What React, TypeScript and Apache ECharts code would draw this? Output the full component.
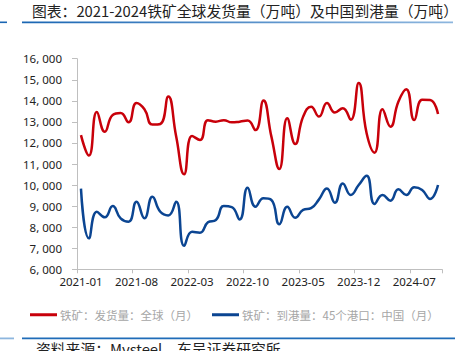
import React, { useEffect, useRef } from "react";
import * as echarts from "echarts";

const months: string[] = [
  "2021-01","2021-02","2021-03","2021-04","2021-05","2021-06","2021-07","2021-08","2021-09","2021-10","2021-11","2021-12",
  "2022-01","2022-02","2022-03","2022-04","2022-05","2022-06","2022-07","2022-08","2022-09","2022-10","2022-11","2022-12",
  "2023-01","2023-02","2023-03","2023-04","2023-05","2023-06","2023-07","2023-08","2023-09","2023-10","2023-11","2023-12",
  "2024-01","2024-02","2024-03","2024-04","2024-05","2024-06","2024-07","2024-08","2024-09","2024-10",
];

const globalShipments: number[] = [
  12370, 11400, 13470, 12530, 13330, 13420, 12980, 13900, 13600, 12870, 12900, 14200,
  12300, 10510, 12330, 12140, 13080, 13010, 13080, 12980, 13010, 13060, 12610, 14010,
  12300, 10760, 13170, 11950, 13250, 13720, 13250, 13900, 13450, 13650, 13100, 14850,
  12460, 11540, 13600, 12770, 13960, 14550, 13090, 14050, 14040, 13370,
];

const chinaArrivals: number[] = [
  9830, 7470, 8730, 8470, 9000, 8420, 8260, 9210, 8420, 9450, 8730, 8560,
  9210, 7120, 7780, 7740, 8230, 8340, 9000, 8950, 8370, 9870, 8970, 9370,
  9290, 8140, 8970, 8450, 8820, 8900, 9320, 9840, 9160, 10080, 9530, 10000,
  10440, 9100, 9530, 9260, 9800, 9530, 9900, 9770, 9340, 10000,
];

const seriesNames: string[] = ["铁矿：发货量：全球（月）", "铁矿：到港量：45个港口：中国（月）"];

const yMin = 6000;
const yMax = 16000;
const yStep = 1000;

export default function App() {
  const ref = useRef<HTMLDivElement>(null);
  useEffect(() => {
    if (!ref.current) return;
    const chart = echarts.init(ref.current, null, { renderer: "svg" });
    chart.setOption({
      animation: false,
      backgroundColor: "#ffffff",
      textStyle: { fontFamily: "'Noto Sans CJK SC', 'Noto Sans', sans-serif" },
      grid: { left: 77, right: 30, top: 58.7, bottom: 81.7, containLabel: false },
      legend: {
        left: 25,
        top: 304,
        itemWidth: 27,
        itemHeight: 3,
        itemGap: 14,
        icon: "rect",
        textStyle: {
          color: "#a6a6a6",
          fontSize: 11.5,
          fontFamily: "'Noto Sans CJK SC', sans-serif",
          padding: [0, 0, 0, -2],
        },
        data: seriesNames,
      },
      xAxis: {
        type: "category",
        data: months,
        boundaryGap: true,
        axisLine: { lineStyle: { color: "#bfbfbf", width: 1 } },
        axisTick: { show: true, interval: 6, length: 4, lineStyle: { color: "#bfbfbf" } },
        axisLabel: {
          interval: 6,
          color: "#222222",
          fontSize: 11.5,
          margin: 6,
          fontFamily: "'Noto Sans', 'DejaVu Sans', sans-serif",
        },
        splitLine: { show: false },
      },
      yAxis: {
        type: "value",
        min: yMin,
        max: yMax,
        interval: yStep,
        axisLine: { show: true, lineStyle: { color: "#bfbfbf", width: 1 } },
        axisTick: { show: true, length: 5, lineStyle: { color: "#bfbfbf" } },
        axisLabel: {
          color: "#222222",
          fontSize: 11.5,
          margin: 15,
          fontFamily: "'Noto Sans', 'DejaVu Sans', sans-serif",
          formatter: (v: number) => `${Math.floor(v / 1000)}, ${String(v % 1000).padStart(3, "0")}`,
        },
        splitLine: { show: false },
      },
      series: [
        {
          name: seriesNames[0],
          type: "line",
          data: globalShipments,
          smooth: 0.5,
          symbol: "none",
          lineStyle: { color: "#C8000A", width: 2.5 },
          itemStyle: { color: "#C8000A" },
        },
        {
          name: seriesNames[1],
          type: "line",
          data: chinaArrivals,
          smooth: 0.5,
          symbol: "none",
          lineStyle: { color: "#0B4592", width: 2.5 },
          itemStyle: { color: "#0B4592" },
        },
      ],
      graphic: [
        {
          type: "text",
          left: 32,
          top: 3,
          style: {
            text: "图表：2021-2024铁矿全球发货量（万吨）及中国到港量（万吨）",
            fill: "#222222",
            fontSize: 14.8,
            fontFamily: "'Noto Sans CJK SC', sans-serif",
          },
        },
        {
          type: "rect",
          shape: { x: 0, y: 21.5, width: 7, height: 1.6 },
          style: { fill: "#1a66b3" },
        },
        {
          type: "rect",
          shape: { x: 22, y: 21.5, width: 431, height: 1.8 },
          style: {
            fill: new echarts.graphic.LinearGradient(0, 0, 1, 0, [
              { offset: 0, color: "#1a66b3" },
              { offset: 1, color: "#8db6de" },
            ]),
          },
        },
        {
          type: "rect",
          shape: { x: 0, y: 337.5, width: 14, height: 1.8 },
          style: { fill: "#8db6de" },
        },
        {
          type: "rect",
          shape: { x: 22, y: 337.5, width: 433, height: 1.8 },
          style: { fill: "#1f6cb8" },
        },
        {
          type: "text",
          left: 36,
          top: 341,
          style: {
            text: "资料来源：Mysteel，东吴证券研究所",
            fill: "#222222",
            fontSize: 14.8,
            fontFamily: "'Noto Sans CJK SC', sans-serif",
          },
        },
      ],
    });
    return () => chart.dispose();
  }, []);
  return (
    <div
      ref={ref}
      style={{ position: "fixed", left: 0, top: 0, width: 472, height: 351 }}
    />
  );
}
